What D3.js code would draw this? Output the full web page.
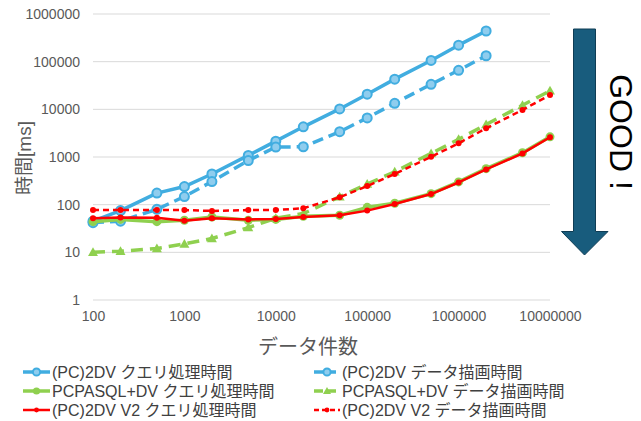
<!DOCTYPE html>
<html>
<head>
<meta charset="utf-8">
<script src="https://cdn.jsdelivr.net/npm/d3@7/dist/d3.min.js"></script>
<style>
  html, body { margin: 0; padding: 0; background: #fff; }
  svg { display: block; font-family: "Liberation Sans", "Noto Sans CJK JP", sans-serif; }
</style>
</head>
<body>
<svg id="chart" width="641" height="421"></svg>
<script>
// record counts on the x axis
const counts = [100, 200, 500, 1000, 2000, 5000, 10000, 20000, 50000, 100000,
                200000, 500000, 1000000, 2000000, 5000000, 10000000];

// timings in ms
const pc2dvQuery   = [45, 75, 175, 240, 440, 1080, 2150, 4300, 10200, 20800, 43000, 106000, 222000, 440000];
const pc2dvDraw    = [42, 45, 80, 148, 305, 840, 1620, 1640, 3400, 6600, 13400, 33500, 66000, 133000];
const pcpasqlQuery = [44, 49, 44, 47, 55, 47, 49, 57, 60, 88, 107, 170, 300, 570, 1230, 2650];
const pcpasqlDraw  = [10, 10.6, 12, 15, 19.5, 33, 52, 65, 147, 270, 490, 1190, 2350, 4800, 12200, 24500];
const v2Query      = [52, 54, 53, 46, 52, 49, 50, 55, 60, 75, 103, 167, 292, 550, 1190, 2600];
const v2Draw       = [77, 77, 77, 77, 74, 77, 77, 84, 143, 246, 440, 1010, 1940, 4000, 9700, 20000];

const seriesNames = [
  "(PC)2DV クエリ処理時間", "(PC)2DV データ描画時間",
  "PCPASQL+DV クエリ処理時間", "PCPASQL+DV データ描画時間",
  "(PC)2DV V2 クエリ処理時間", "(PC)2DV V2 データ描画時間"
];
const yTicks = [1, 10, 100, 1000, 10000, 100000, 1000000];
const xTicks = [100, 1000, 10000, 100000, 1000000, 10000000];
const xTitle = "データ件数";
const yTitle = "時間[ms]";
const goodLabel = "GOOD !";

const BLUE = "#41ade0", GREEN = "#8fd04f", RED = "#ff0000";

const series = [
  { name: seriesNames[0], values: pc2dvQuery,   color: BLUE,  width: 3.5, dash: null,  marker: "circle", r: 4.5, hollow: true },
  { name: seriesNames[1], values: pc2dvDraw,    color: BLUE,  width: 3.5, dash: "11,6", marker: "circle", r: 4.5, hollow: true },
  { name: seriesNames[2], values: pcpasqlQuery, color: GREEN, width: 3.5, dash: null,  marker: "circle", r: 4.5 },
  { name: seriesNames[3], values: pcpasqlDraw,  color: GREEN, width: 3.5, dash: "12,7", marker: "triangle", r: 5 },
  { name: seriesNames[4], values: v2Query,      color: RED,   width: 2.5, dash: null,  marker: "circle", r: 3 },
  { name: seriesNames[5], values: v2Draw,       color: RED,   width: 2.5, dash: "6,4", marker: "circle", r: 3 }
];

const svg = d3.select("#chart");
const plotLeft = 93, plotRight = 550, plotTop = 14, plotBottom = 300;

const x = d3.scaleLog().domain([100, 10000000]).range([plotLeft, plotRight]);
const y = d3.scaleLog().domain([1, 1000000]).range([plotBottom, plotTop]);

// horizontal gridlines
svg.append("g")
  .selectAll("line").data(yTicks).join("line")
  .attr("x1", plotLeft).attr("x2", plotRight)
  .attr("y1", d => y(d)).attr("y2", d => y(d))
  .attr("stroke", "#d9d9d9").attr("stroke-width", 1);

// y axis labels
const yAxis = d3.axisLeft(y).tickValues(yTicks).tickFormat(d3.format("d")).tickSize(0).tickPadding(13);
svg.append("g").attr("transform", `translate(${plotLeft},0)`).call(yAxis)
  .call(g => g.select(".domain").remove())
  .call(g => g.selectAll("text").attr("font-size", 14).attr("fill", "#595959")
    .attr("font-family", "Liberation Sans, sans-serif"));

// x axis labels
const xAxis = d3.axisBottom(x).tickValues(xTicks).tickFormat(d3.format("d")).tickSize(0).tickPadding(11);
svg.append("g").attr("transform", `translate(0,${plotBottom})`).call(xAxis)
  .call(g => g.select(".domain").remove())
  .call(g => g.selectAll("text").attr("font-size", 14).attr("fill", "#595959")
    .attr("font-family", "Liberation Sans, sans-serif"));

// axis titles
svg.append("text").attr("x", 308).attr("y", 354).attr("text-anchor", "middle")
  .attr("font-size", 20).attr("fill", "#595959").text(xTitle);
svg.append("text").attr("transform", "translate(31,158) rotate(-90)").attr("text-anchor", "middle")
  .attr("font-size", 19).attr("fill", "#595959").text(yTitle);

function drawMarker(g, s, cx, cy) {
  if (s.marker === "triangle") {
    const r = s.r;
    g.append("path")
      .attr("d", `M${cx},${cy - r} L${cx + r},${cy + r * 0.75} L${cx - r},${cy + r * 0.75} Z`)
      .attr("fill", s.color);
  } else {
    g.append("circle").attr("cx", cx).attr("cy", cy).attr("r", s.r)
      .attr("fill", s.hollow ? "#8fcdee" : s.color)
      .attr("stroke", s.color).attr("stroke-width", s.hollow ? 2 : 0);
  }
}

// series lines and markers
const line = d3.line().x(d => x(d.x)).y(d => y(d.y));
series.forEach(s => {
  const pts = s.values.map((v, i) => ({ x: counts[i], y: v }));
  const g = svg.append("g");
  g.append("path").datum(pts).attr("d", line)
    .attr("fill", "none").attr("stroke", s.color).attr("stroke-width", s.width)
    .attr("stroke-linejoin", "round")
    .attr("stroke-dasharray", s.dash);
  pts.forEach(p => drawMarker(g, s, x(p.x), y(p.y)));
});

// legend
const legendRows = [372, 391, 410];
series.forEach((s, i) => {
  const col = i % 2, row = Math.floor(i / 2);
  const x0 = col === 0 ? 23 : 314;
  const x1 = col === 0 ? 50 : 340;
  const ly = legendRows[row];
  const g = svg.append("g");
  g.append("line").attr("x1", x0).attr("x2", x1).attr("y1", ly).attr("y2", ly)
    .attr("stroke", s.color).attr("stroke-width", s.width)
    .attr("stroke-dasharray", s.dash ? (s.color === RED ? "5,3" : "9,4") : null);
  drawMarker(g, Object.assign({}, s, { r: s.r * 0.8 }), (x0 + x1) / 2, ly);
  g.append("text").attr("x", x1 + 2).attr("y", ly + 5.5)
    .attr("font-size", 16).attr("fill", "#404040").text(s.name);
});

// "GOOD !" arrow
const arrow = svg.append("g");
arrow.append("path")
  .attr("d", "M573.5,29 L595.5,29 L595.5,231.5 L608,231.5 L584.5,255 L561.5,231.5 L573.5,231.5 Z")
  .attr("fill", "#185c7d").attr("stroke", "#0f3d55").attr("stroke-width", 1);
arrow.append("text")
  .attr("transform", "translate(610,132) rotate(90)")
  .attr("text-anchor", "middle")
  .attr("font-size", 32).attr("fill", "#000")
  .attr("font-family", "Liberation Sans, sans-serif")
  .text(goodLabel);
</script>
</body>
</html>
